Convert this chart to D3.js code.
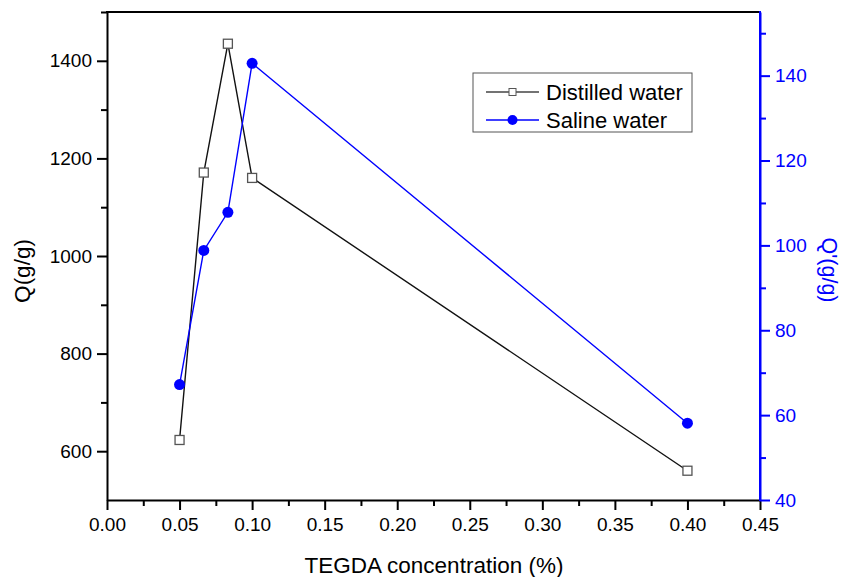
<!DOCTYPE html>
<html>
<head>
<meta charset="utf-8">
<script src="https://cdn.jsdelivr.net/npm/d3@7"></script>
<style>
  body { margin: 0; background: #fff; }
  svg { display: block; font-family: "Liberation Sans", Arial, sans-serif; }
</style>
</head>
<body>
<svg id="plot" width="841" height="577"></svg>
<script>
// data
var concentration = [0.05, 0.0667, 0.0833, 0.10, 0.40];
var distilledQ = [623, 1171, 1435, 1160, 560];
var salineQ = [67.2, 98.8, 107.8, 142.9, 58.1];
var seriesNames = ["Distilled water", "Saline water"];
var xTicks = [0, 0.05, 0.10, 0.15, 0.20, 0.25, 0.30, 0.35, 0.40, 0.45];
var leftTicks = [600, 800, 1000, 1200, 1400];
var rightTicks = [40, 60, 80, 100, 120, 140];

var svg = d3.select("#plot");
var margin = {left: 107, right: 81, top: 12, bottom: 77};
var width = 841 - margin.left - margin.right,
    height = 577 - margin.top - margin.bottom;
var blue = "#0000ff";

var g = svg.append("g").attr("transform", "translate(" + margin.left + "," + margin.top + ")");

var x = d3.scaleLinear().domain([0, 0.45]).range([0, width]);
var yL = d3.scaleLinear().domain([500, 1500]).range([height, 0]);
var yR = d3.scaleLinear().domain([40, 155]).range([height, 0]);

// minor ticks first
g.append("g").attr("transform", "translate(0," + height + ")")
    .call(d3.axisBottom(x).tickValues(d3.range(0.025, 0.45, 0.05)).tickSize(6).tickFormat(""))
    .call(function (a) { a.select(".domain").remove(); a.selectAll("line").attr("stroke-width", 2); });
g.append("g")
    .call(d3.axisLeft(yL).tickValues([700, 900, 1100, 1300, 1500]).tickSize(6).tickFormat(""))
    .call(function (a) { a.select(".domain").remove(); a.selectAll("line").attr("stroke-width", 2); });
g.append("g").attr("transform", "translate(" + width + ",0)")
    .call(d3.axisRight(yR).tickValues([50, 70, 90, 110, 130, 150]).tickSize(6).tickFormat(""))
    .call(function (a) { a.select(".domain").remove(); a.selectAll("line").attr("stroke", blue).attr("stroke-width", 2); });

// major axes
var xAxis = g.append("g").attr("transform", "translate(0," + height + ")")
    .call(d3.axisBottom(x).tickValues(xTicks).tickSize(10).tickSizeOuter(0).tickPadding(8).tickFormat(d3.format(".2f")));
var leftAxis = g.append("g")
    .call(d3.axisLeft(yL).tickValues(leftTicks).tickSize(10).tickSizeOuter(0).tickPadding(5).tickFormat(d3.format("d")));
var rightAxis = g.append("g").attr("transform", "translate(" + width + ",0)")
    .call(d3.axisRight(yR).tickValues(rightTicks).tickSize(10).tickSizeOuter(0).tickPadding(5).tickFormat(d3.format("d")));

[xAxis, leftAxis, rightAxis].forEach(function (a) {
    a.attr("font-family", null).attr("font-size", 19);
    a.select(".domain").attr("stroke-width", 2);
    a.selectAll(".tick line").attr("stroke-width", 2);
});
rightAxis.selectAll(".tick text").attr("fill", blue);
rightAxis.selectAll(".tick line, .domain").attr("stroke", blue);

// top frame
g.append("line").attr("x1", -1).attr("x2", width).attr("y1", 0).attr("y2", 0)
    .attr("stroke", "#000").attr("stroke-width", 2);
// redraw right spine in blue on top
g.append("line").attr("x1", width).attr("x2", width).attr("y1", -1).attr("y2", height + 1)
    .attr("stroke", blue).attr("stroke-width", 2);

// lines
var lineL = d3.line().x(function (d, i) { return x(concentration[i]); }).y(function (d) { return yL(d); });
var lineR = d3.line().x(function (d, i) { return x(concentration[i]); }).y(function (d) { return yR(d); });

g.append("path").datum(distilledQ).attr("d", lineL)
    .attr("fill", "none").attr("stroke", "#111").attr("stroke-width", 1.4);
g.append("path").datum(salineQ).attr("d", lineR)
    .attr("fill", "none").attr("stroke", blue).attr("stroke-width", 1.4);

g.selectAll("rect.pt").data(distilledQ).enter().append("rect")
    .attr("class", "pt")
    .attr("x", function (d, i) { return x(concentration[i]) - 4.5; })
    .attr("y", function (d) { return yL(d) - 4.5; })
    .attr("width", 9).attr("height", 9)
    .attr("fill", "#fff").attr("stroke", "#555").attr("stroke-width", 1.3);

g.selectAll("circle.pt").data(salineQ).enter().append("circle")
    .attr("class", "pt")
    .attr("cx", function (d, i) { return x(concentration[i]); })
    .attr("cy", function (d) { return yR(d); })
    .attr("r", 5.5).attr("fill", blue);

// axis titles
svg.append("text").attr("x", 434).attr("y", 573).attr("text-anchor", "middle")
    .attr("font-size", 22.5).text("TEGDA concentration (%)");
svg.append("text").attr("transform", "translate(30,271) rotate(-90)").attr("text-anchor", "middle")
    .attr("font-size", 22.5).text("Q(g/g)");
svg.append("text").attr("transform", "translate(822,270) rotate(90)").attr("text-anchor", "middle")
    .attr("font-size", 21.5).attr("fill", blue).text("Q'(g/g)");

// legend
var legend = svg.append("g").attr("transform", "translate(473,73)");
legend.append("rect").attr("width", 219).attr("height", 59)
    .attr("fill", "#fff").attr("stroke", "#555").attr("stroke-width", 1);
var rows = legend.selectAll("g.row").data(seriesNames).enter().append("g")
    .attr("class", "row")
    .attr("transform", function (d, i) { return "translate(0," + (19 + i * 28) + ")"; });
rows.append("line").attr("x1", 13).attr("x2", 66).attr("y1", 0).attr("y2", 0)
    .attr("stroke", function (d, i) { return i == 0 ? "#444" : blue; }).attr("stroke-width", 1.4);
rows.filter(function (d, i) { return i == 0; }).append("rect")
    .attr("x", 36).attr("y", -3.5).attr("width", 7).attr("height", 7)
    .attr("fill", "#fff").attr("stroke", "#555");
rows.filter(function (d, i) { return i == 1; }).append("circle")
    .attr("cx", 39.5).attr("cy", 0).attr("r", 5).attr("fill", blue);
rows.append("text").attr("x", 73).attr("y", 7.5).attr("font-size", 22).text(function (d) { return d; });
</script>
</body>
</html>
